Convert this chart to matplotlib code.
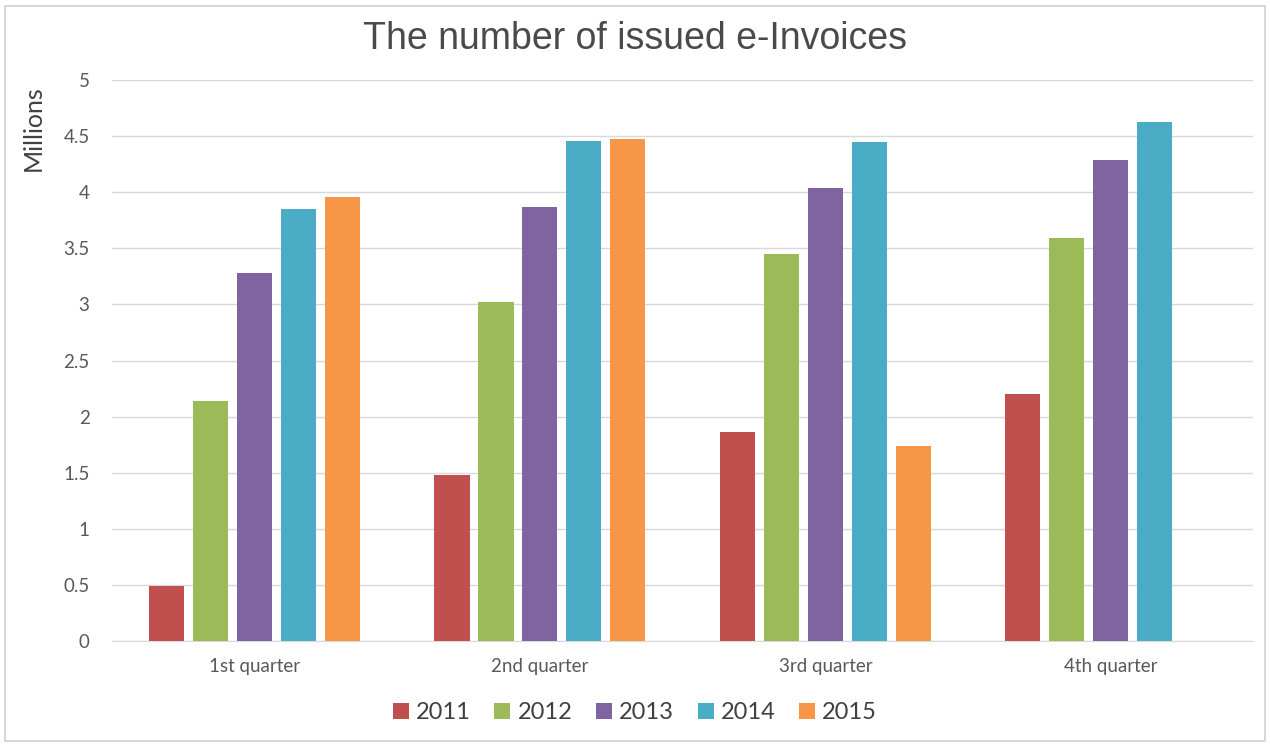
import numpy as np
import matplotlib.pyplot as plt
from matplotlib.patches import Rectangle

quarters = ['1st quarter', '2nd quarter', '3rd quarter', '4th quarter']
years = ['2011', '2012', '2013', '2014', '2015']
values = {
    '2011': [0.49, 1.48, 1.86, 2.20],
    '2012': [2.14, 3.02, 3.45, 3.59],
    '2013': [3.28, 3.87, 4.04, 4.29],
    '2014': [3.85, 4.46, 4.45, 4.63],
    '2015': [3.96, 4.47, 1.74, np.nan],
}
colors = ['#C0504D', '#9BBB59', '#8064A2', '#4BACC6', '#F79646']
yticks = [0, 0.5, 1, 1.5, 2, 2.5, 3, 3.5, 4, 4.5, 5]

fig = plt.figure(figsize=(12.7, 7.45), dpi=100)
ax = fig.add_axes([0.088, 0.1396, 0.899, 0.753])

x = np.arange(len(quarters))
slot = 0.154
width = 0.123
for i, yr in enumerate(years):
    ax.bar(x + (i - 2) * slot, values[yr], width, color=colors[i], label=yr, zorder=3)

ax.set_xlim(-0.5, 3.5)
ax.set_ylim(0, 5)
ax.set_yticks(yticks)
ax.set_yticklabels([f"{t:g}" for t in yticks], fontfamily='Lato', fontsize=13.5, color='#595959')
ax.set_xticks(x)
ax.set_xticklabels(quarters, fontfamily='Lato', fontsize=13.5, color='#595959')
ax.tick_params(axis='x', length=0, pad=12)
ax.tick_params(axis='y', length=0, pad=16)
ax.grid(axis='y', color='#D9D9D9', linewidth=1, zorder=0)
for s in ['top', 'right', 'left']:
    ax.spines[s].set_visible(False)
ax.spines['bottom'].set_color('#D9D9D9')
ax.set_ylabel('Millions', fontfamily='Lato', fontsize=18, color='#404040')
ax.yaxis.set_label_coords(-0.059, 0.914)

fig.text(0.5, 0.947, 'The number of issued e-Invoices', ha='center', va='center',
         fontfamily='Liberation Sans', fontsize=27, color='#4a4a4a')

leg = fig.legend(loc='center', bbox_to_anchor=(0.5, 0.043), ncol=5, frameon=False,
                 prop={'family': 'Lato', 'size': 17}, handlelength=0.68, handleheight=0.68,
                 columnspacing=1.0, handletextpad=0.3)
for t in leg.get_texts():
    t.set_color('#404040')

fig.patches.append(Rectangle((0.004, 0.006), 0.992, 0.986, transform=fig.transFigure,
                             fill=False, edgecolor='#D0D0D0', linewidth=1.2))

plt.savefig('out.png')
